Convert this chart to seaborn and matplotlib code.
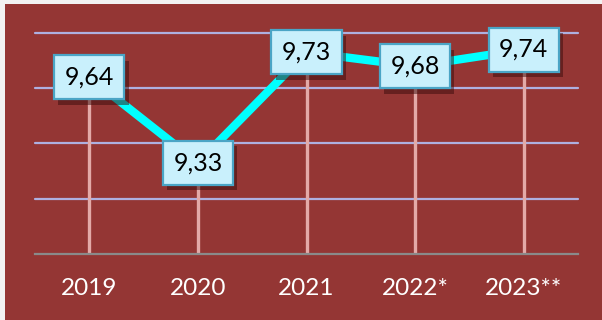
import matplotlib
matplotlib.use("Agg")
import matplotlib.pyplot as plt
import matplotlib.patheffects as pe
import seaborn as sns
import pandas as pd
from matplotlib.ticker import FixedLocator

years = ["2019", "2020", "2021", "2022*", "2023**"]
values = [9.64, 9.33, 9.73, 9.68, 9.74]
value_labels = ["9,64", "9,33", "9,73", "9,68", "9,74"]
y_min, y_max = 9.0, 9.8
grid_levels = [9.2, 9.4, 9.6, 9.8]

sns.set_theme(style="white")
plt.rcParams["font.family"] = ["Lato", "DejaVu Sans"]

BG = "#943634"
df = pd.DataFrame({"year": years, "value": values})

fig = plt.figure(figsize=(6.02, 3.20), dpi=100, facecolor=BG)
# thin light margin along the top and left edges
fig.patches.append(plt.Rectangle((0, 1 - 4 / 320), 1, 4 / 320,
                                 transform=fig.transFigure, facecolor="#f2f2f2",
                                 edgecolor="none", zorder=-1))
fig.patches.append(plt.Rectangle((0, 0), 5 / 602, 1,
                                 transform=fig.transFigure, facecolor="#f2f2f2",
                                 edgecolor="none", zorder=-1))
ax = fig.add_axes([35 / 602, 66 / 320, 543 / 602, 221 / 320])
ax.set_facecolor(BG)

for g in grid_levels:
    ax.axhline(g, color="#aeb0e0", lw=1.6, zorder=1, clip_on=False)

xs = list(range(len(years)))
ax.vlines(xs, y_min, values, color="#e3aaa8", lw=2.4, zorder=2)

sns.lineplot(data=df, x="year", y="value", ax=ax, color="#00ffff",
             lw=6, sort=False, zorder=3)

for x, v, lab in zip(xs, values, value_labels):
    t = ax.annotate(lab, (x, v), ha="center", va="center", fontsize=18,
                    color="black",
                    bbox=dict(boxstyle="square,pad=0.42", fc="#c9f0fc",
                              ec="#4aa5c6", lw=1.6), zorder=5)
    # soft drop shadow under each value box
    t.get_bbox_patch().set_path_effects([
        pe.SimplePatchShadow(offset=(3, -4), shadow_rgbFace="#3a0c0c", alpha=0.5),
        pe.Normal(),
    ])

ax.set_xlim(-0.5, len(years) - 0.5)
ax.set_ylim(y_min, y_max)
ax.set_yticks([])
ax.set_xlabel("")
ax.set_ylabel("")
ax.set_xticks(xs)
ax.set_xticklabels(years, color="white", fontsize=17.5)
ax.tick_params(axis="x", which="major", length=0, pad=17)
ax.xaxis.set_minor_locator(FixedLocator([i - 0.5 for i in range(len(years) + 1)]))
ax.tick_params(axis="x", which="minor", length=6, width=1.6,
               color="#8a8a8a", direction="out")

for side in ["top", "left", "right"]:
    ax.spines[side].set_visible(False)
ax.spines["bottom"].set_color("#8a8a8a")
ax.spines["bottom"].set_linewidth(1.6)

fig.savefig("out.png", dpi=100, facecolor=fig.get_facecolor())
